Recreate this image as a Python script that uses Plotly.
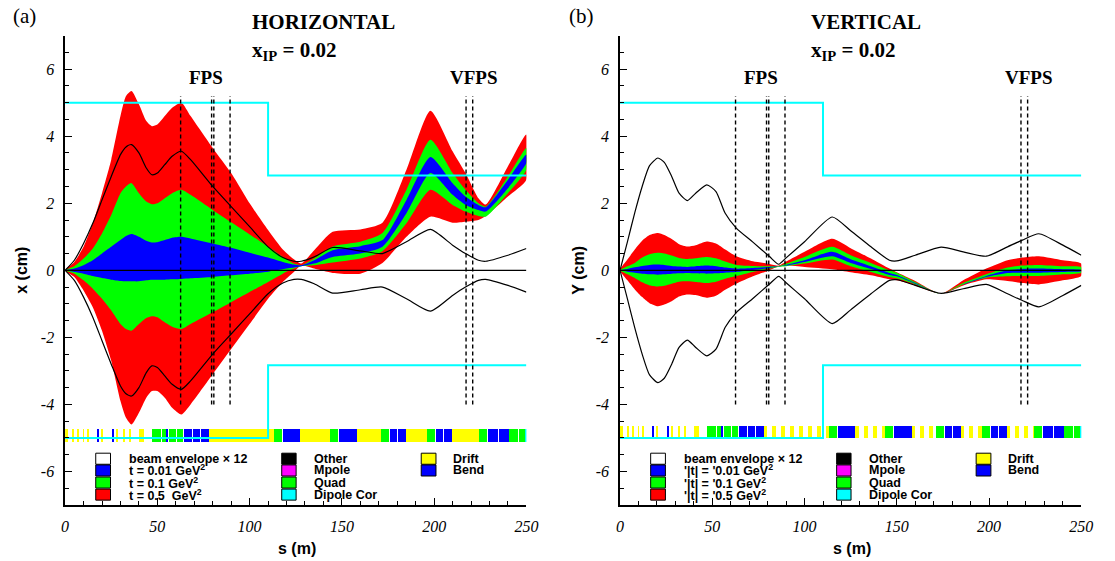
import plotly.graph_objects as go

W, H = 1115, 561

# ---------------- panel (a): HORIZONTAL ----------------
s_h = [0, 5, 10, 15, 20, 25, 30, 33, 36, 40, 44, 47, 50, 54, 58, 63, 68, 80, 90, 100,
       110, 118, 124, 128, 135, 145, 160, 172, 185, 198, 210, 217, 224, 228, 240, 250]
env_h = [0, 0.3, 0.8, 1.4, 2.1, 2.8, 3.45, 3.68, 3.75, 3.5, 3.05, 2.85, 2.9, 3.15, 3.4, 3.55, 3.3, 2.5, 1.9, 1.3,
         0.7, 0.38, 0.27, 0.27, 0.4, 0.68, 0.58, 0.5, 0.85, 1.22, 0.75, 0.5, 0.3, 0.27, 0.45, 0.65]
red_h_up = [0, 0.25, 0.7, 1.4, 2.3, 3.3, 4.6, 5.2, 5.35, 4.95, 4.45, 4.3, 4.35, 4.6, 4.85, 5.0, 4.6, 3.65, 2.9, 2.0,
            1.2, 0.62, 0.33, 0.2, 0.6, 1.15, 1.22, 1.42, 3.0, 4.76, 3.55, 2.9, 2.15, 1.96, 3.1, 4.05]
red_h_lo = [0, -0.2, -0.6, -1.1, -1.8, -2.7, -3.9, -4.4, -4.6, -4.25, -3.8, -3.6, -3.6, -3.8, -4.1, -4.3, -4.0, -3.1, -2.35, -1.6,
            -0.85, -0.35, -0.05, 0.15, 0.05, -0.08, -0.1, 0.22, 1.0, 1.6, 1.42, 1.45, 1.5, 1.62, 2.2, 2.7]
grn_h_up = [0, 0.12, 0.35, 0.65, 1.1, 1.65, 2.3, 2.5, 2.6, 2.3, 2.05, 1.97, 2.0, 2.15, 2.3, 2.4, 2.25, 1.8, 1.43, 1.07,
            0.7, 0.4, 0.2, 0.15, 0.35, 0.71, 0.85, 1.11, 2.4, 3.89, 2.9, 2.4, 2.0, 1.9, 2.8, 3.65]
grn_h_lo = [0, -0.1, -0.3, -0.55, -0.85, -1.2, -1.6, -1.75, -1.8, -1.6, -1.42, -1.37, -1.4, -1.55, -1.68, -1.75, -1.6, -1.25, -0.95, -0.65,
            -0.35, -0.1, 0.05, 0.12, 0.15, 0.23, 0.35, 0.57, 1.4, 2.4, 1.95, 1.75, 1.62, 1.6, 2.3, 3.0]
blu_h_up = [0, 0.05, 0.15, 0.3, 0.5, 0.7, 0.9, 1.02, 1.08, 1.0, 0.88, 0.83, 0.84, 0.9, 0.97, 1.0, 0.95, 0.8, 0.67, 0.52,
            0.38, 0.25, 0.17, 0.15, 0.3, 0.6, 0.72, 0.9, 2.1, 3.38, 2.6, 2.2, 1.95, 1.88, 2.7, 3.45]
blu_h_lo = [0, -0.05, -0.1, -0.17, -0.23, -0.28, -0.32, -0.33, -0.33, -0.33, -0.3, -0.28, -0.28, -0.28, -0.27, -0.26, -0.24, -0.2, -0.15, -0.1,
            -0.04, 0.03, 0.08, 0.12, 0.2, 0.4, 0.5, 0.7, 1.7, 2.9, 2.25, 1.95, 1.8, 1.75, 2.45, 3.2]

# ---------------- panel (b): VERTICAL ----------------
s_v = [0, 4, 8, 12, 16, 20.5, 24, 28, 32, 36.5, 41, 47, 52, 57, 63, 72, 81, 86, 90, 100,
       115, 125, 136, 146, 150, 160, 174, 186, 198.5, 210, 218, 227, 240, 250]
env_v = [0, 0.85, 1.72, 2.5, 3.12, 3.35, 3.22, 2.8, 2.3, 2.08, 2.3, 2.55, 2.35, 1.7, 1.26, 0.84, 0.41, 0.18, 0.37, 0.85,
         1.59, 1.18, 0.7, 0.3, 0.28, 0.45, 0.69, 0.55, 0.42, 0.7, 0.9, 1.09, 0.75, 0.45]
red_v_up = [0, 0.32, 0.62, 0.88, 1.05, 1.11, 1.05, 0.93, 0.78, 0.71, 0.75, 0.86, 0.8, 0.62, 0.42, 0.27, 0.19, 0.14, 0.26, 0.55,
            0.94, 0.66, 0.35, 0.05, -0.06, -0.32, -0.7, -0.3, 0.05, 0.3, 0.38, 0.42, 0.3, 0.2]
red_v_lo = [0, -0.3, -0.57, -0.8, -0.98, -1.07, -1.02, -0.92, -0.78, -0.72, -0.74, -0.82, -0.76, -0.58, -0.4, -0.18, 0.0, 0.12, 0.14, 0.1,
            0.03, -0.06, -0.15, -0.27, -0.3, -0.45, -0.7, -0.45, -0.27, -0.32, -0.38, -0.42, -0.3, -0.17]
grn_v_up = [0, 0.12, 0.22, 0.38, 0.48, 0.52, 0.5, 0.44, 0.37, 0.34, 0.36, 0.4, 0.36, 0.26, 0.16, 0.13, 0.12, 0.12, 0.2, 0.4,
            0.7, 0.45, 0.22, 0.0, -0.07, -0.35, -0.7, -0.38, -0.12, 0.08, 0.14, 0.16, 0.12, 0.1]
grn_v_lo = [0, -0.12, -0.23, -0.36, -0.45, -0.48, -0.46, -0.4, -0.34, -0.33, -0.35, -0.38, -0.34, -0.25, -0.17, -0.05, 0.05, 0.1, 0.12, 0.2,
            0.32, 0.12, -0.05, -0.2, -0.24, -0.42, -0.7, -0.42, -0.22, -0.18, -0.17, -0.17, -0.12, -0.07]
blu_v_up = [0, 0.04, 0.09, 0.13, 0.16, 0.17, 0.16, 0.13, 0.11, 0.1, 0.12, 0.14, 0.12, 0.08, 0.05, 0.07, 0.1, 0.12, 0.16, 0.3,
            0.55, 0.33, 0.12, -0.08, -0.14, -0.38, -0.7, -0.42, -0.17, 0.0, 0.04, 0.05, 0.03, 0.01]
blu_v_lo = [0, -0.04, -0.07, -0.1, -0.12, -0.13, -0.12, -0.1, -0.09, -0.08, -0.09, -0.1, -0.09, -0.07, -0.05, 0.01, 0.07, 0.11, 0.14, 0.25,
            0.42, 0.22, 0.04, -0.14, -0.18, -0.4, -0.7, -0.43, -0.2, -0.08, -0.07, -0.07, -0.05, -0.03]

# ---------------- lattice (shared) ----------------
lat_start = [0, 4.0, 6.8, 9.8, 12.0, 17.4, 20.0, 25.5, 28.0, 31.7, 35.2, 40.0,
             47.0, 52.3, 55.0, 56.4, 60.8, 64.5, 69.6, 73.8,
             77.8, 113.5, 118.3, 123.1, 127.4, 143.7, 148.7, 153.5, 158.0, 171.3, 175.9, 180.4,
             184.6, 196.2, 200.8, 205.3, 209.5, 224.6, 229.2, 235.0, 240.6, 245.8, 249.6]
lat_end = [1.6, 4.5, 7.3, 10.3, 12.5, 18.0, 20.5, 26.7, 28.5, 32.2, 35.7, 42.7,
           51.8, 54.6, 56.0, 60.3, 63.9, 69.0, 73.3, 77.8,
           113.5, 117.5, 122.8, 127.4, 143.7, 148.2, 153.2, 158.0, 171.3, 175.7, 180.2, 184.6,
           196.2, 200.6, 205.1, 209.5, 224.6, 228.8, 234.7, 240.4, 245.5, 249.6, 250.0]
lat_type = ["Drift", "Drift", "Drift", "Drift", "Drift", "Bend", "Drift", "Bend", "Drift", "Drift", "Drift", "Drift",
            "Quad", "Quad", "Bend", "Quad", "Quad", "Bend", "Bend", "Bend",
            "Drift", "Quad", "Bend", "Bend", "Drift", "Quad", "Bend", "Bend", "Drift", "Quad", "Bend", "Bend",
            "Drift", "Quad", "Bend", "Bend", "Drift", "Quad", "Bend", "Bend", "Quad", "Quad", "Dipole Cor"]
type_color = {"Drift": "#ffff00", "Quad": "#00ff00", "Bend": "#0000ff", "Dipole Cor": "#00ffff",
              "Other": "#000000", "Mpole": "#ff00ff"}

# aperture
ap_s = [0, 110, 110, 250]
ap_y = [5, 5, 2.83, 2.83]

# detector positions
dash_s = [62.6, 79.4, 80.6, 89.4, 217.3, 220.9]
dash_y = [-4.0, 5.2]

# tick labels
x_ticks = [0, 50, 100, 150, 200, 250]
x_ticktext = ["0", "50", "100", "150", "200", "250"]
y_ticks = [-6, -4, -2, 0, 2, 4, 6]
y_ticktext = ["-6", "-4", "-2", "0", "2", "4", "6"]

# legend texts
leg_col1_h = ["beam envelope \u00d7 12", "t = 0.01 GeV<sup>2</sup>", "t = 0.1 GeV<sup>2</sup>", "t = 0.5\u00a0 GeV<sup>2</sup>"]
leg_col1_v = ["beam envelope \u00d7 12", "'|t| = '0.01 GeV<sup>2</sup>", "'|t| = '0.1 GeV<sup>2</sup>", "'|t| = '0.5 GeV<sup>2</sup>"]
leg_col1_c = ["#ffffff", "#0000ff", "#00ff00", "#ff0000"]
leg_col2 = ["Other", "Mpole", "Quad", "Dipole Cor"]
leg_col3 = ["Drift", "Bend"]

# ---------------- figure ----------------
SERIF = "Liberation Serif, Times New Roman, serif"
SANS = "Liberation Sans, Arial, sans-serif"
fig = go.Figure()
SMOOTH = 0.6


def band(s, up, lo, color, xa, ya):
    fig.add_trace(go.Scatter(x=s + s[::-1], y=up + lo[::-1], fill="toself", fillcolor=color,
                             mode="lines", line=dict(width=0, color=color, shape="spline", smoothing=SMOOTH),
                             xaxis=xa, yaxis=ya, hoverinfo="skip", showlegend=False))


def panel(s, env, bands, xa, ya, strip, striped):
    for up, lo, c in bands:
        band(s, up, lo, c, xa, ya)
    for sign in (1, -1):
        fig.add_trace(go.Scatter(x=s, y=[sign * v for v in env], mode="lines",
                                 line=dict(color="black", width=1.2, shape="spline", smoothing=SMOOTH),
                                 xaxis=xa, yaxis=ya, showlegend=False))
    fig.add_trace(go.Scatter(x=[0, 250], y=[0, 0], mode="lines", line=dict(color="black", width=1.2),
                             xaxis=xa, yaxis=ya, showlegend=False))
    for sign in (1, -1):
        fig.add_trace(go.Scatter(x=ap_s, y=[sign * v for v in ap_y], mode="lines",
                                 line=dict(color="#00ffff", width=2), xaxis=xa, yaxis=ya, showlegend=False))
    dx, dy = [], []
    for d in dash_s:
        dx += [d, d, None]
        dy += [dash_y[0], dash_y[1], None]
    fig.add_trace(go.Scatter(x=dx, y=dy, mode="lines", line=dict(color="black", width=1.4, dash="4px,3px"),
                             xaxis=xa, yaxis=ya, showlegend=False))
    b0, b1 = strip
    cx, wd, col = [], [], []
    for a, e, t in zip(lat_start, lat_end, lat_type):
        if striped and t == "Drift" and e - a > 3:
            p = a
            while p < e:
                q = min(p + 2.1, e)
                cx.append((p + q) / 2); wd.append(q - p); col.append(type_color[t])
                p += 4.8
        else:
            cx.append((a + e) / 2); wd.append(e - a); col.append(type_color[t])
    fig.add_trace(go.Bar(x=cx, y=[b1 - b0] * len(cx), base=[b0] * len(cx), width=wd,
                         marker=dict(color=col, line=dict(width=0)), xaxis=xa, yaxis=ya,
                         showlegend=False, hoverinfo="skip"))


panel(s_h, env_h, [(red_h_up, red_h_lo, "#ff0000"), (grn_h_up, grn_h_lo, "#00ff00"), (blu_h_up, blu_h_lo, "#0000ff")],
      "x", "y", (-5.12, -4.72), False)
panel(s_v, env_v, [(red_v_up, red_v_lo, "#ff0000"), (grn_v_up, grn_v_lo, "#00ff00"), (blu_v_up, blu_v_lo, "#0000ff")],
      "x2", "y2", (-4.98, -4.63), True)

rows = [-5.62, -5.97, -6.33, -6.69]
cols = [(16.6, 24.6, 33.7), (117.4, 125.2, 134.0), (193.0, 201.0, 209.4)]
shapes = []
annotations = []
for xa, ya, col1 in (("x", "y", leg_col1_h), ("x2", "y2", leg_col1_v)):
    groups = [(col1, leg_col1_c), (leg_col2, ["#000000", "#ff00ff", "#00ff00", "#00ffff"]),
              (leg_col3, ["#ffff00", "#0000ff"])]
    for (texts, colors), (x0, x1, xt) in zip(groups, cols):
        for i, (t, c) in enumerate(zip(texts, colors)):
            shapes.append(dict(type="rect", xref=xa, yref=ya, x0=x0, x1=x1, y0=rows[i] - 0.165, y1=rows[i] + 0.165,
                               fillcolor=c, line=dict(color="black", width=1)))
            annotations.append(dict(x=xt, y=rows[i], xref=xa, yref=ya, text="<b>" + t + "</b>", showarrow=False,
                                    xanchor="left", yanchor="middle", font=dict(family=SANS, size=12.5, color="black")))
    annotations.append(dict(x=76.4, y=5.74, xref=xa, yref=ya, text="<b>FPS</b>", showarrow=False,
                            font=dict(family=SERIF, size=19, color="black")))
    annotations.append(dict(x=221.7, y=5.74, xref=xa, yref=ya, text="<b>VFPS</b>", showarrow=False,
                            font=dict(family=SERIF, size=19, color="black")))


def ptext(px, py, text, size, family, xanchor="center", angle=0):
    annotations.append(dict(x=px / W, y=1 - py / H, xref="paper", yref="paper", text=text, showarrow=False,
                            xanchor=xanchor, yanchor="middle", textangle=angle,
                            font=dict(family=family, size=size, color="black")))


ptext(7, 16, "(a)", 21, SERIF, "left")
ptext(571, 16, "(b)", 21, SERIF, "left")
ptext(250, 22, "<b>HORIZONTAL</b>", 21, SERIF, "left")
ptext(250, 51, "<b>x<sub>IP</sub> = 0.02</b>", 21, SERIF, "left")
ptext(817, 22, "<b>VERTICAL</b>", 21, SERIF, "left")
ptext(817, 51, "<b>x<sub>IP</sub> = 0.02</b>", 21, SERIF, "left")
ptext(18, 270, "<b>x (cm)</b>", 16, SANS, "center", -90)
ptext(583, 270, "<b>Y (cm)</b>", 16, SANS, "center", -90)
ptext(297, 548, "<b>s (m)</b>", 16, SANS)
ptext(860, 548, "<b>s (m)</b>", 16, SANS)

tickfont = dict(family="Liberation Serif", size=16, color="black")
yminor = [-7 + 0.5 * k for k in range(29)]
xaxis_common = dict(range=[0, 250], showline=True, linecolor="black", linewidth=1.5, ticks="inside", ticklen=7,
                    tickwidth=1.3, tickcolor="black", tickmode="array", tickvals=x_ticks,
                    ticktext=["<i>" + t + "</i>" for t in x_ticktext], showgrid=False,
                    zeroline=False, tickfont=tickfont, ticklabelstandoff=6,
                    minor=dict(ticks="inside", ticklen=4, tickmode="linear", dtick=10, tick0=0, tickcolor="black",
                               tickwidth=1, showgrid=False))
yaxis_common = dict(range=[-7, 7], showline=True, linecolor="black", linewidth=1.5, ticks="inside", ticklen=7,
                    tickwidth=1.3, tickcolor="black", tickmode="array", tickvals=y_ticks,
                    ticktext=["<i>" + t + "</i>" for t in y_ticktext], showgrid=False,
                    zeroline=False, tickfont=tickfont, ticklabelstandoff=6,
                    minor=dict(ticks="inside", ticklen=4, tickmode="array", tickvals=yminor, tickcolor="black",
                               tickwidth=1, showgrid=False))
ydom = [56 / H, 525.4 / H]
fig.update_layout(
    width=W, height=H, margin=dict(l=0, r=0, t=0, b=0), paper_bgcolor="white", plot_bgcolor="white",
    barmode="overlay", bargap=0, showlegend=False, font=dict(family=SERIF, color="black"),
    xaxis=dict(domain=[62 / W, 530 / W], anchor="y", **xaxis_common),
    yaxis=dict(domain=ydom, anchor="x", **yaxis_common),
    xaxis2=dict(domain=[625 / W, 1093 / W], anchor="y2", **xaxis_common),
    yaxis2=dict(domain=ydom, anchor="x2", **yaxis_common),
    shapes=shapes, annotations=annotations,
)

fig.write_html("out.html")
